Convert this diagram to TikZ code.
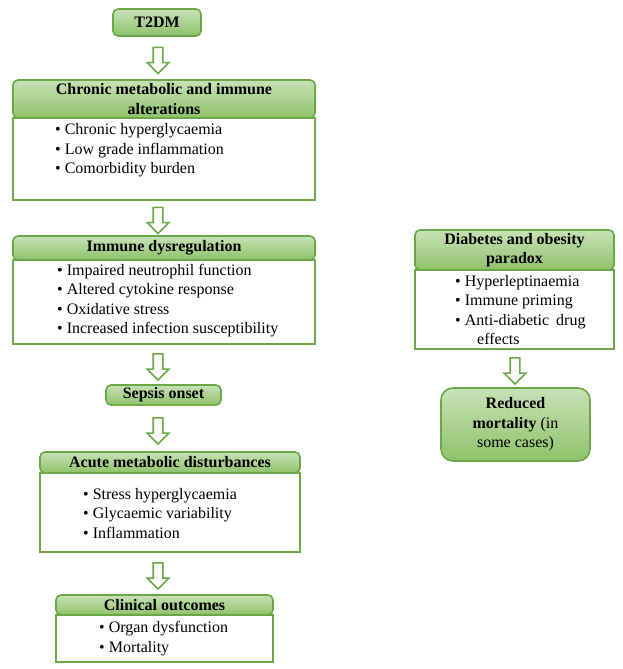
\documentclass[tikz,border=0pt]{standalone}
\usepackage{fontspec}
\setmainfont{Liberation Serif}
\usetikzlibrary{shapes.arrows,calc}
\definecolor{gborder}{RGB}{106,168,72}
\definecolor{gtop}{RGB}{200,226,182}
\definecolor{gbot}{RGB}{142,194,106}
\tikzset{
  hdr/.style={draw=gborder, line width=1.6pt, rounded corners=5pt, top color=gtop, bottom color=gbot,
    font=\fontsize{16}{19.5}\selectfont\bfseries, align=center, inner sep=0pt, text=black},
  bodybox/.style={draw=gborder, line width=1.6pt, fill=white, inner sep=0pt},
  listtxt/.style={align=left, anchor=west, inner sep=0pt, font=\fontsize{16}{19.5}\selectfont},
  blockarrow/.style={single arrow, draw=gborder, line width=1.6pt, fill=white, rotate=-90,
    minimum height=26pt, minimum width=20pt, single arrow head extend=6pt, inner xsep=0pt, inner ysep=4pt}
}
\begin{document}
\begin{tikzpicture}[x=1pt,y=-1pt]
\useasboundingbox (0,0) rectangle (623,669);
% T2DM
\node[hdr, minimum width=88pt, minimum height=27pt] (t2dm) at (157,22.5) {T2DM};
% Chronic
\node[bodybox, minimum width=302pt, minimum height=82pt] (chronicB) at (164,159) {};
\node[hdr, minimum width=302pt, minimum height=38pt] (chronicH) at (164,99) {Chronic metabolic and immune\\alterations};
\node[listtxt] (chronicL) at (55,150.5) {\textbullet\ Chronic hyperglycaemia\\\textbullet\ Low grade inflammation\\\textbullet\ Comorbidity burden};
% Immune
\node[bodybox, minimum width=302pt, minimum height=84pt] (immuneB) at (164,302) {};
\node[hdr, minimum width=302pt, minimum height=24pt] (immuneH) at (164,248) {Immune dysregulation};
\node[listtxt] (immuneL) at (57,300.5) {\textbullet\ Impaired neutrophil function\\\textbullet\ Altered cytokine response\\\textbullet\ Oxidative stress\\\textbullet\ Increased infection susceptibility};
% Sepsis
\node[hdr, minimum width=115pt, minimum height=20pt] (sepsis) at (163.5,395) {Sepsis onset};
% Acute
\node[bodybox, minimum width=260pt, minimum height=79pt] (acuteB) at (170,512.5) {};
\node[hdr, minimum width=260pt, minimum height=21pt] (acuteH) at (170,462.5) {Acute metabolic disturbances};
\node[listtxt] (acuteL) at (83,513.5) {\textbullet\ Stress hyperglycaemia\\\textbullet\ Glycaemic variability\\\textbullet\ Inflammation};
% Clinical
\node[bodybox, minimum width=217pt, minimum height=47pt] (clinB) at (164.5,638.5) {};
\node[hdr, minimum width=217pt, minimum height=20pt] (clinH) at (164.5,605) {Clinical outcomes};
\node[listtxt] (clinL) at (99,638.5) {\textbullet\ Organ dysfunction\\\textbullet\ Mortality};
% Diabetes paradox
\node[bodybox, minimum width=199pt, minimum height=79pt] (diabB) at (514.5,309.5) {};
\node[hdr, minimum width=199pt, minimum height=40pt] (diabH) at (514.5,250) {Diabetes and obesity\\paradox};
\node[listtxt] (diabL) at (455,310) {\textbullet\ Hyperleptinaemia\\\textbullet\ Immune priming\\\textbullet\ Anti-diabetic\hspace{3pt} drug\\\hspace{22pt}effects};
% Reduced mortality
\node[hdr, rounded corners=12pt, font=\fontsize{16}{19.5}\selectfont, minimum width=149pt, minimum height=73pt] (reduced) at (515.5,424.5) {\textbf{Reduced}\\\textbf{mortality} (in\\some cases)};
% arrows
\coordinate (ax) at (158,0);
\coordinate (m1) at ($(t2dm.south)!0.5!(chronicH.north)$);
\coordinate (m2) at ($(chronicB.south)!0.5!(immuneH.north)$);
\coordinate (m3) at ($(immuneB.south)!0.5!(sepsis.north)$);
\coordinate (m4) at ($(sepsis.south)!0.5!(acuteH.north)$);
\coordinate (m5) at ($(acuteB.south)!0.5!(clinH.north)$);
\coordinate (m6) at ($(diabB.south)!0.5!(reduced.north)$);
\node[blockarrow] (ar1) at (ax |- m1) {};
\node[blockarrow] (ar2) at (ax |- m2) {};
\node[blockarrow] (ar3) at (ax |- m3) {};
\node[blockarrow] (ar4) at (ax |- m4) {};
\node[blockarrow] (ar5) at (ax |- m5) {};
\node[blockarrow] (ar6) at (m6) {};
\end{tikzpicture}
\end{document}
